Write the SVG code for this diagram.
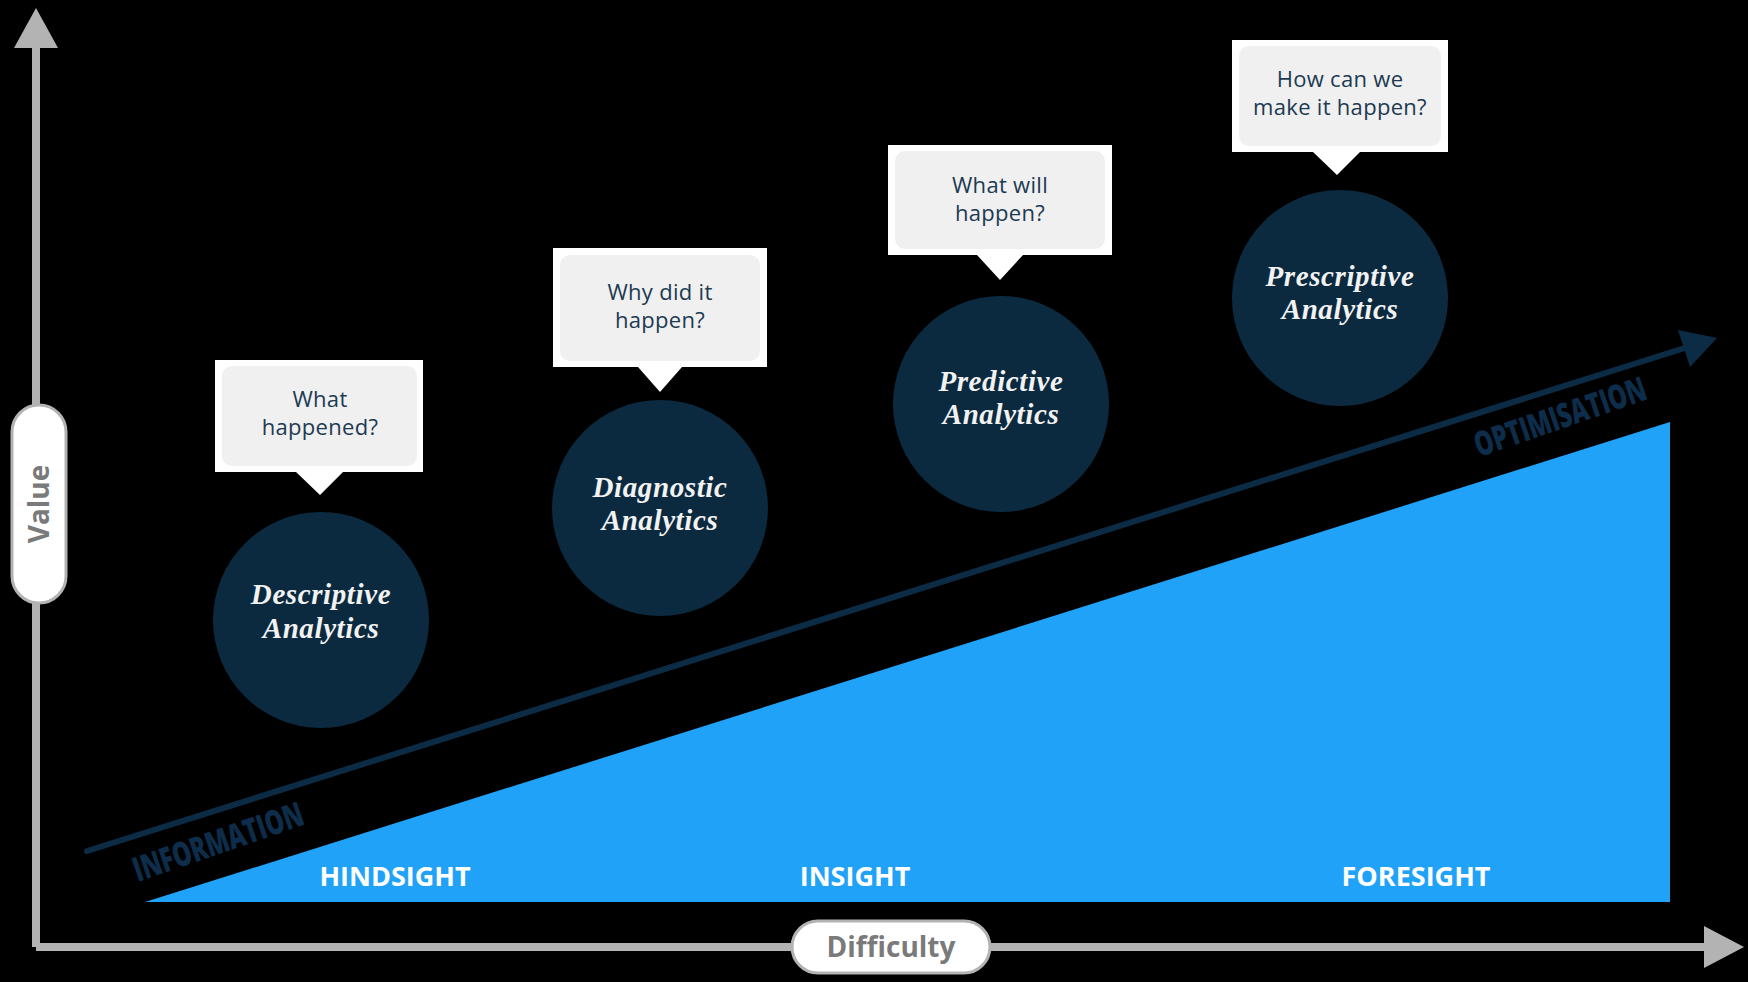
<svg xmlns="http://www.w3.org/2000/svg" width="1748" height="982" viewBox="0 0 1748 982">
<style>
.axis{stroke:#b3b3b3;stroke-width:8;fill:none}
.axhead{fill:#b3b3b3}
.pill{fill:#ffffff;stroke:#b3b3b3;stroke-width:3}
.pilltxt{font-family:"Open Sans","Liberation Sans",sans-serif;font-weight:700;fill:#7a7a7a;text-anchor:middle}
.circ{fill:#0b2a40}
.ctxt{font-family:"Liberation Serif",serif;font-weight:700;font-style:italic;font-size:29px;letter-spacing:0.6px;fill:#f2f2f2;text-anchor:middle}
.bout{fill:#ffffff}
.bin{fill:#f0f0f0}
.btxt{font-family:"Open Sans","Liberation Sans",sans-serif;font-size:22px;letter-spacing:0.3px;fill:#1c3a52;text-anchor:middle}
.stage{font-family:"Open Sans","Liberation Sans",sans-serif;font-weight:700;font-size:27px;fill:#ffffff;text-anchor:middle}
.diag{font-family:"Open Sans","Liberation Sans",sans-serif;font-weight:800;font-size:34px;fill:#0d2d4a;text-anchor:middle}
</style>
<rect width="1748" height="982" fill="#000000"/>

<g id="axes">
  <line class="axis" x1="36" y1="46" x2="36" y2="947"/>
  <line class="axis" x1="36" y1="947" x2="1706" y2="947"/>
  <polygon class="axhead" points="36,8 58,48 14,48"/>
  <polygon class="axhead" points="1744,947 1704,926 1704,968"/>
</g>

<g id="value-label">
  <rect class="pill" x="12" y="405" width="54" height="198" rx="27"/>
  <text class="pilltxt" font-size="28" transform="translate(49,504) rotate(-90)">Value</text>
</g>

<g id="difficulty-label">
  <rect class="pill" x="792" y="921" width="198" height="52" rx="26"/>
  <text class="pilltxt" font-size="28" x="891" y="957">Difficulty</text>
</g>

<g id="difficulty-area">
  <polygon points="145,902 1670,422 1670,902" fill="#1fa2f7"/>
  <text class="stage" x="395" y="886">HINDSIGHT</text>
  <text class="stage" x="855" y="886">INSIGHT</text>
  <text class="stage" x="1416" y="886">FORESIGHT</text>
</g>

<g id="connectors">
  <line x1="87" y1="851" x2="1688" y2="347" stroke="#0c2b45" stroke-width="6" stroke-linecap="round"/>
  <polygon points="1717,338 1678,330 1690,367" fill="#0c2b45"/>
  <text class="diag" transform="translate(222,853) rotate(-19)" textLength="178" lengthAdjust="spacingAndGlyphs">INFORMATION</text>
  <text class="diag" transform="translate(1564,428) rotate(-19)" textLength="180" lengthAdjust="spacingAndGlyphs">OPTIMISATION</text>
</g>

<g id="descriptive">
  <circle class="circ" cx="321" cy="620" r="108"/>
  <text class="ctxt" x="321" y="604">Descriptive</text>
  <text class="ctxt" x="321" y="638">Analytics</text>
</g>
<g id="descriptive-bubble">
  <polygon class="bout" points="215,360 423,360 423,472 343,472 320,495 296,472 215,472"/>
  <rect class="bin" x="222" y="366" width="195" height="100" rx="10"/>
  <text class="btxt" x="320" y="407">What</text>
  <text class="btxt" x="320" y="435">happened?</text>
</g>

<g id="diagnostic">
  <circle class="circ" cx="660" cy="508" r="108"/>
  <text class="ctxt" x="660" y="497">Diagnostic</text>
  <text class="ctxt" x="660" y="530">Analytics</text>
</g>
<g id="diagnostic-bubble">
  <polygon class="bout" points="553,248 767,248 767,367 682,367 660,392 638,367 553,367"/>
  <rect class="bin" x="560" y="255" width="200" height="106" rx="10"/>
  <text class="btxt" x="660" y="300">Why did it</text>
  <text class="btxt" x="660" y="328">happen?</text>
</g>

<g id="predictive">
  <circle class="circ" cx="1001" cy="404" r="108"/>
  <text class="ctxt" x="1001" y="391">Predictive</text>
  <text class="ctxt" x="1001" y="424">Analytics</text>
</g>
<g id="predictive-bubble">
  <polygon class="bout" points="888,145 1112,145 1112,255 1023,255 1000,280 977,255 888,255"/>
  <rect class="bin" x="895" y="151" width="210" height="98" rx="10"/>
  <text class="btxt" x="1000" y="193">What will</text>
  <text class="btxt" x="1000" y="221">happen?</text>
</g>

<g id="prescriptive">
  <circle class="circ" cx="1340" cy="298" r="108"/>
  <text class="ctxt" x="1340" y="286">Prescriptive</text>
  <text class="ctxt" x="1340" y="319">Analytics</text>
</g>
<g id="prescriptive-bubble">
  <polygon class="bout" points="1232,40 1448,40 1448,152 1360,152 1337,175 1313,152 1232,152"/>
  <rect class="bin" x="1239" y="46" width="202" height="100" rx="10"/>
  <text class="btxt" x="1340" y="87">How can we</text>
  <text class="btxt" x="1340" y="115">make it happen?</text>
</g>
</svg>
